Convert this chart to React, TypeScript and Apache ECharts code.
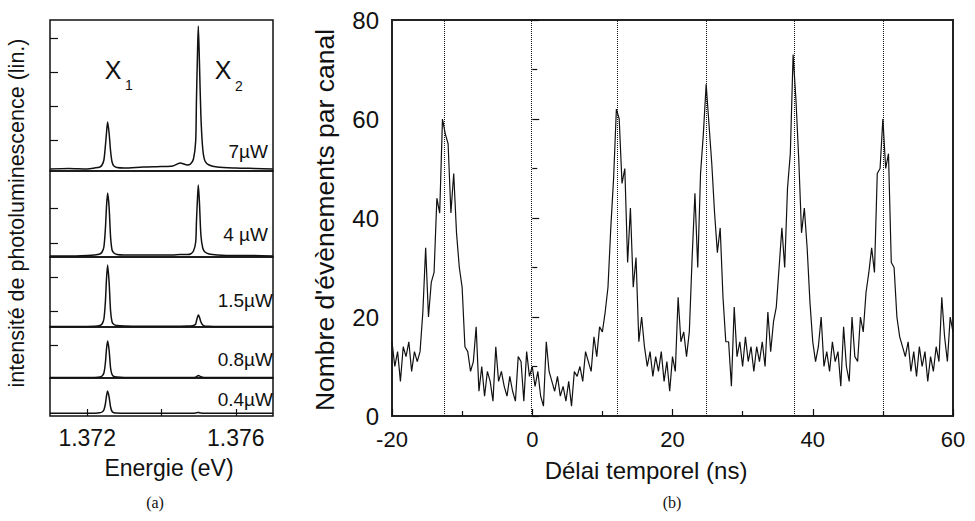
import React, { useEffect, useRef } from "react";
import * as echarts from "echarts";

// ---------- Panel (a): photoluminescence spectra ----------
const energies = [
  1.371, 1.3715, 1.372, 1.3722, 1.37234, 1.3724, 1.37245, 1.37249, 1.37252, 1.37255,
  1.37259, 1.37263, 1.37267, 1.37272, 1.3728, 1.373, 1.3735, 1.374, 1.3743, 1.3745,
  1.3747, 1.37478, 1.37486, 1.37492, 1.37494, 1.37497, 1.37499, 1.37502, 1.37506, 1.37511,
  1.37517, 1.37528, 1.3755, 1.376, 1.3765, 1.377,
];
const spectrum7uW = [
  2, 2.5, 2, 3, 4, 6, 11, 25, 38, 49,
  38, 20, 9, 5, 3.5, 3, 4, 4.5, 5, 8,
  6, 7, 12, 30, 70, 120, 145, 110, 55, 22,
  10, 6, 4, 3, 2.5, 2,
];
const spectrum4uW = [
  1, 1, 1.5, 2, 3, 5, 10, 28, 50, 64,
  50, 20, 7, 4, 2.5, 2, 2, 2, 2, 2.5,
  2.5, 3, 6, 15, 35, 60, 72, 55, 22, 9,
  5, 3, 2, 1.5, 1.5, 1,
];
const spectrum1p5uW = [
  0.5, 0.5, 0.6, 0.8, 1.5, 3, 8, 25, 48, 62,
  45, 16, 5, 2.5, 1.5, 1, 0.8, 0.8, 0.8, 0.8,
  0.9, 1, 1.5, 3, 6, 10, 12, 10, 5, 2,
  1, 0.8, 0.6, 0.5, 0.5, 0.5,
];
const spectrum0p8uW = [
  0.4, 0.4, 0.5, 0.6, 1, 2, 5, 15, 29, 37,
  28, 10, 3.5, 1.5, 1, 0.6, 0.5, 0.5, 0.5, 0.5,
  0.5, 0.5, 0.6, 0.8, 1.3, 2.2, 2.6, 2.2, 1.2, 0.7,
  0.5, 0.5, 0.5, 0.4, 0.4, 0.4,
];
const spectrum0p4uW = [
  2.7, 2.7, 2.7, 2.8, 3.2, 4, 6, 12, 20, 25,
  19, 9, 4.5, 3.3, 2.9, 2.7, 2.7, 2.7, 2.7, 2.7,
  2.7, 2.7, 2.8, 3, 3.2, 3.4, 3.6, 3.3, 3, 2.8,
  2.7, 2.7, 2.7, 2.7, 2.7, 2.7,
];
const spectra = [spectrum7uW, spectrum4uW, spectrum1p5uW, spectrum0p8uW, spectrum0p4uW];
const powerLabels = ["7µW", "4 µW", "1.5µW", "0.8µW", "0.4µW"];
const panelMax = [151, 86, 70, 51, 38];
const panelTicks = [[31, 65, 99, 133], [14, 49], [16, 50], [33], []];
const energyTicks = [1.372, 1.374, 1.376];
const energyTickLabels = [1.372, 1.376];

// ---------- Panel (b): time-delay histogram ----------
const binStart = -20;
const binWidth = 0.4;
const counts = [
  15, 10, 13, 7, 14, 12, 15, 9, 13, 11,
  13, 21, 34, 20, 27, 29, 44, 41, 60, 57,
  55, 41, 49, 37, 30, 26, 14, 13, 9, 11,
  18, 5, 10, 4, 9, 7, 3, 14, 7, 9,
  6, 4, 8, 5, 3, 12, 11, 3, 13, 8,
  10, 6, 9, 4, 2, 15, 9, 7, 5, 8,
  4, 6, 3, 7, 2, 9, 8, 10, 7, 13,
  11, 9, 16, 12, 18, 17, 21, 26, 38, 48,
  62, 60, 47, 50, 31, 42, 26, 32, 15, 20,
  14, 10, 13, 8, 12, 9, 13, 7, 11, 5,
  12, 9, 24, 15, 17, 12, 17, 32, 45, 30,
  49, 57, 67, 59, 51, 41, 33, 38, 24, 15,
  15, 6, 22, 12, 15, 10, 16, 11, 14, 9,
  14, 11, 15, 10, 21, 13, 19, 22, 30, 38,
  30, 46, 53, 73, 64, 52, 37, 42, 34, 23,
  15, 11, 14, 20, 10, 13, 9, 15, 11, 13,
  6, 18, 10, 7, 20, 12, 11, 20, 17, 25,
  29, 34, 29, 49, 50, 60, 50, 53, 31, 30,
  20, 16, 14, 12, 15, 9, 13, 8, 14, 10,
  13, 7, 12, 9, 14, 11, 24, 16, 11, 20, 17,
];
const syncLines = [-12.6, -0.1, 12.1, 24.8, 37.3, 50.0];

const FONT = "'Liberation Sans', Arial, Helvetica, sans-serif";
const SERIF = "'Liberation Serif', 'Times New Roman', serif";
const INK = "#111";

export default function App() {
  const ref = useRef<HTMLDivElement>(null);

  useEffect(() => {
    if (!ref.current) return;
    const chart = echarts.init(ref.current, null, { renderer: "svg" });

    const subTops = [20, 171, 257, 327, 378];
    const aLeft = 50;
    const aWidth = 223;

    const grids: any[] = subTops.map((top, i) => ({
      left: aLeft,
      width: aWidth,
      top,
      height: panelMax[i],
      show: true,
      borderColor: INK,
      borderWidth: 1.5,
      backgroundColor: "transparent",
      containLabel: false,
      outerBoundsMode: "none",
    }));
    grids.push({
      left: 392,
      top: 20,
      width: 561,
      height: 396,
      show: true,
      borderColor: "#222",
      borderWidth: 2,
      backgroundColor: "transparent",
      containLabel: false,
      outerBoundsMode: "none",
    });

    const xAxes: any[] = subTops.map((_, i) => ({
      type: "value",
      gridIndex: i,
      min: 1.371,
      max: 1.377,
      show: i === 4,
      axisLine: { show: false },
      axisTick: {
        show: true,
        inside: true,
        length: 7,
        customValues: energyTicks,
        lineStyle: { color: INK, width: 1.2 },
      },
      axisLabel: {
        show: true,
        customValues: energyTickLabels,
        formatter: (v: number) => v.toFixed(3),
        fontFamily: FONT,
        fontSize: 23,
        color: INK,
        margin: 10,
      },
      splitLine: { show: false },
    }));
    xAxes.push({
      type: "value",
      gridIndex: 5,
      min: -20,
      max: 60,
      interval: 20,
      axisLine: { show: false },
      axisTick: { show: true, inside: true, length: 7, lineStyle: { color: INK, width: 1.2 } },
      minorTick: { show: true, splitNumber: 2, length: 5, lineStyle: { color: INK, width: 1.2 } },
      axisLabel: { fontFamily: FONT, fontSize: 22, color: INK, margin: 12 },
      splitLine: { show: false },
      minorSplitLine: { show: false },
    });

    const yAxes: any[] = subTops.map((_, i) => ({
      type: "value",
      gridIndex: i,
      min: 0,
      max: panelMax[i],
      axisLine: { show: false },
      axisTick: {
        show: panelTicks[i].length > 0,
        inside: true,
        length: 8,
        customValues: panelTicks[i],
        lineStyle: { color: INK, width: 1.2 },
      },
      axisLabel: { show: false },
      splitLine: { show: false },
    }));
    yAxes.push({
      type: "value",
      gridIndex: 5,
      min: 0,
      max: 80,
      interval: 20,
      axisLine: { show: false },
      axisTick: { show: true, inside: true, length: 7, lineStyle: { color: INK, width: 1.2 } },
      minorTick: { show: true, splitNumber: 2, length: 5, lineStyle: { color: INK, width: 1.2 } },
      axisLabel: { fontFamily: FONT, fontSize: 24, color: INK, margin: 13 },
      splitLine: { show: false },
      minorSplitLine: { show: false },
    });

    const series: any[] = spectra.map((vals, i) => ({
      type: "line",
      xAxisIndex: i,
      yAxisIndex: i,
      data: energies.map((e, k) => [e, vals[k]]),
      showSymbol: false,
      symbol: "none",
      smooth: 0.25,
      lineStyle: { color: INK, width: 1.5 },
    }));
    series.push({
      type: "line",
      xAxisIndex: 5,
      yAxisIndex: 5,
      data: counts.map((c, i) => [binStart + i * binWidth, c]),
      showSymbol: false,
      symbol: "none",
      lineStyle: { color: INK, width: 1.2 },
      markLine: {
        silent: true,
        symbol: ["none", "none"],
        label: { show: false },
        lineStyle: { type: "dotted", color: INK, width: 1 },
        data: syncLines.map((x) => ({ xAxis: x })),
      },
    });

    const labelY = [151, 234, 300, 359, 399];
    const labelRight = [268, 268, 273, 273, 273];
    const graphic: any[] = [
      ...powerLabels.map((t, i) => ({
        type: "text",
        x: labelRight[i],
        y: labelY[i],
        style: {
          text: t,
          fontFamily: FONT,
          fontSize: 19,
          fill: INK,
          align: "right",
          verticalAlign: "middle",
        },
      })),
      { type: "text", x: 113, y: 70, style: { text: "X", fontFamily: FONT, fontSize: 25, fill: INK, align: "center", verticalAlign: "middle" } },
      { type: "text", x: 129, y: 85, style: { text: "1", fontFamily: FONT, fontSize: 14, fill: INK, align: "center", verticalAlign: "middle" } },
      { type: "text", x: 223, y: 70, style: { text: "X", fontFamily: FONT, fontSize: 25, fill: INK, align: "center", verticalAlign: "middle" } },
      { type: "text", x: 239, y: 86, style: { text: "2", fontFamily: FONT, fontSize: 14, fill: INK, align: "center", verticalAlign: "middle" } },
      {
        type: "text",
        x: 17,
        y: 213,
        rotation: Math.PI / 2,
        style: {
          text: "intensité de photoluminescence (lin.)",
          fontFamily: FONT,
          fontSize: 21.5,
          fill: INK,
          align: "center",
          verticalAlign: "middle",
        },
      },
      {
        type: "text",
        x: 169,
        y: 468,
        style: { text: "Energie (eV)", fontFamily: FONT, fontSize: 23, fill: INK, align: "center", verticalAlign: "middle" },
      },
      {
        type: "text",
        x: 325,
        y: 220,
        rotation: Math.PI / 2,
        style: {
          text: "Nombre d'évènements par canal",
          fontFamily: FONT,
          fontSize: 26.5,
          fill: INK,
          align: "center",
          verticalAlign: "middle",
        },
      },
      {
        type: "text",
        x: 646,
        y: 470,
        style: { text: "Délai temporel (ns)", fontFamily: FONT, fontSize: 24, fill: INK, align: "center", verticalAlign: "middle" },
      },
      {
        type: "text",
        x: 155,
        y: 502,
        style: { text: "(a)", fontFamily: SERIF, fontSize: 16, fill: INK, align: "center", verticalAlign: "middle" },
      },
      {
        type: "text",
        x: 672,
        y: 502,
        style: { text: "(b)", fontFamily: SERIF, fontSize: 16, fill: INK, align: "center", verticalAlign: "middle" },
      },
    ];

    chart.setOption({
      animation: false,
      backgroundColor: "#ffffff",
      grid: grids,
      xAxis: xAxes,
      yAxis: yAxes,
      series,
      graphic,
    });

    return () => chart.dispose();
  }, []);

  return (
    <div
      ref={ref}
      style={{ position: "fixed", left: 0, top: 0, width: 975, height: 521, background: "#fff" }}
    />
  );
}
